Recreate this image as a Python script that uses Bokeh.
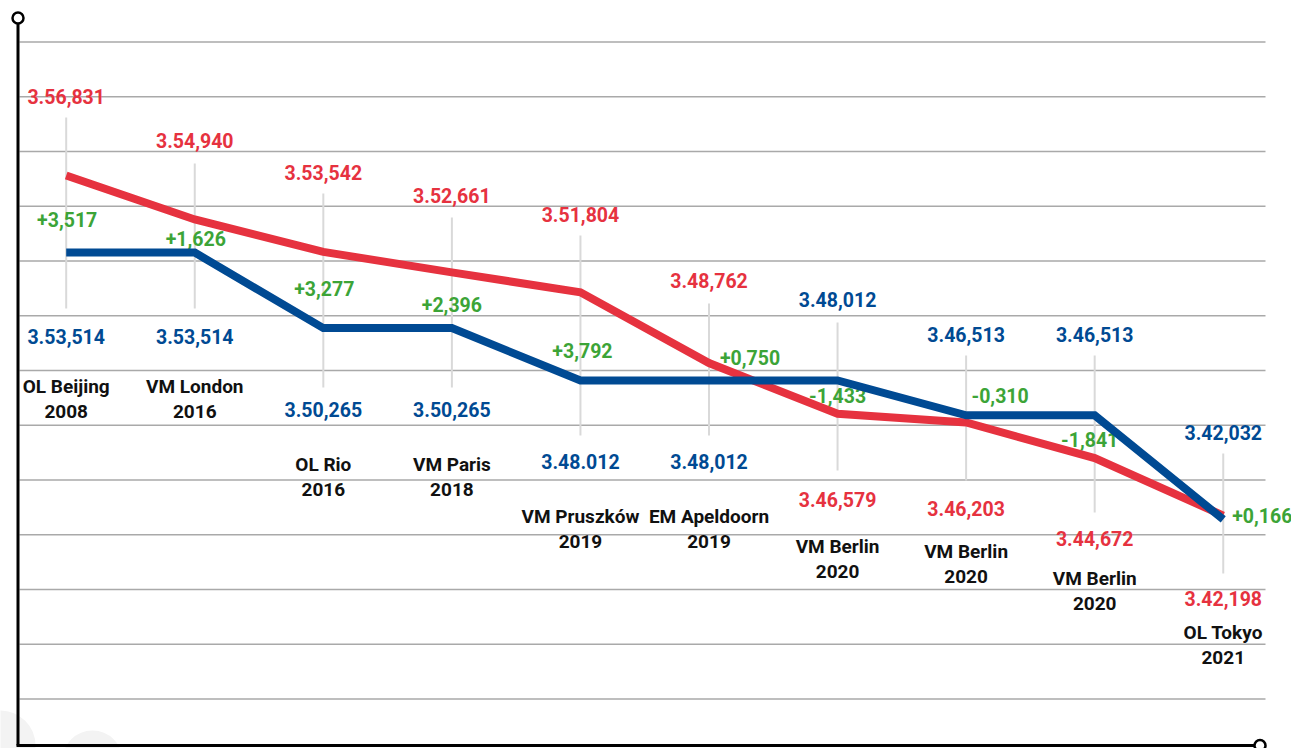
from bokeh.plotting import figure
from bokeh.models import Range1d, ColumnDataSource
from bokeh.core.properties import value
from bokeh.embed import file_html
from bokeh.resources import INLINE

# ---------------- data ----------------
events = ["OL Beijing", "VM London", "OL Rio", "VM Paris", "VM Pruszków",
          "EM Apeldoorn", "VM Berlin", "VM Berlin", "VM Berlin", "OL Tokyo"]
years = ["2008", "2016", "2016", "2018", "2019", "2019", "2020", "2020", "2020", "2021"]
red_times = ["3.56,831", "3.54,940", "3.53,542", "3.52,661", "3.51,804",
             "3.48,762", "3.46,579", "3.46,203", "3.44,672", "3.42,198"]
blue_times = ["3.53,514", "3.53,514", "3.50,265", "3.50,265", "3.48.012",
              "3.48,012", "3.48,012", "3.46,513", "3.46,513", "3.42,032"]
diffs = ["+3,517", "+1,626", "+3,277", "+2,396", "+3,792",
         "+0,750", "-1,433", "-0,310", "-1,841", "+0,166"]


def to_seconds(s):
    minutes, rest = s.split(".", 1)
    return int(minutes) * 60 + float(rest.replace(",", "."))


red_secs = [to_seconds(s) for s in red_times]
blue_secs = [to_seconds(s) for s in blue_times]
idx = list(range(len(events)))

# ---------------- layout (page pixels) ----------------
red_lab_y = [96, 140, 172, 195, 214, 280, 499, 508, 538, 598]
blue_lab_y = [336, 336, 409, 409, 461, 461, 299, 334, 334, 432]
diff_lab_y = [219, 238, 288, 304, 350, 357, 395, 395, 439, 515]
diff_dx = [1, 1, 1, 0, 2, 41, 0, 34, -5, 39]
name_y = [386, 386, 464, 464, 516, 516, 546, 551, 578, 632]
year_y = [v + 25 for v in name_y]
tick_top = [117, 163, 193, 217, 235, 303, 322, 355, 355, 453]
tick_bot = [308, 308, 387, 387, 435, 435, 470, 480, 512, 573]

RED = "#e6323f"
BLUE = "#004a93"
GREEN = "#3ca437"
BLACK = "#111111"

W, H = 1291, 748
X0, XSTEP = 65.7, 128.56       # page x of first event, spacing
Y_REF, T_REF, PX_PER_S = 175.0, red_secs[0], 23.24

x_start = (0 - X0) / XSTEP
x_end = (W - X0) / XSTEP
y_top = T_REF + (Y_REF - 0) / PX_PER_S
y_bot = T_REF - (H - Y_REF) / PX_PER_S

p = figure(width=W, height=H, x_range=Range1d(x_start, x_end),
           y_range=Range1d(y_bot, y_top), output_backend="svg",
           toolbar_location=None, min_border=0, tools="")
p.extra_x_ranges = {"px": Range1d(0, W)}
p.extra_y_ranges = {"py": Range1d(H, 0)}
p.axis.visible = False
p.grid.visible = False
p.outline_line_color = None
p.background_fill_color = "white"
p.border_fill_color = "white"

# faint background shapes at lower left
p.scatter(x=[0, 92], y=[745, 760], x_range_name="px", y_range_name="py",
          size=[70, 60], fill_color="#f3f3f3", line_color=None)

# grid lines (decorative)
grid_y = [41.5 + 54.75 * k for k in range(13)]
p.segment(x0=[19] * len(grid_y), x1=[1265] * len(grid_y), y0=grid_y, y1=grid_y,
          x_range_name="px", y_range_name="py", line_color="#a9a9a9", line_width=1.3)

# vertical leader lines
p.segment(x0=idx, x1=idx, y0=tick_top, y1=tick_bot, y_range_name="py",
          line_color="#d9d9d9", line_width=2)

src = ColumnDataSource(dict(
    x=idx, ev=events, yr=years, red=red_times, blue=blue_times, diff=diffs,
    ry=red_lab_y, by=blue_lab_y, dy=diff_lab_y, ddx=diff_dx, ny=name_y, yy=year_y,
))

common = dict(source=src, y_range_name="py", text_font=value("Roboto"),
              text_font_style="bold", text_align="center", text_baseline="middle")
p.text(x="x", y="ny", text="ev", text_color=BLACK, text_font_size="19px", **common)
p.text(x="x", y="yy", text="yr", text_color=BLACK, text_font_size="19px", **common)
p.text(x="x", y="ry", text="red", text_color=RED, text_font_size="19.5px", **common)
p.text(x="x", y="by", text="blue", text_color=BLUE, text_font_size="19.5px", **common)
p.text(x="x", y="dy", text="diff", x_offset="ddx", text_color=GREEN,
       text_font_size="19.5px", **common)

# data lines
p.line(x=idx, y=red_secs, line_color=RED, line_width=8, line_join="miter")
p.line(x=idx, y=blue_secs, line_color=BLUE, line_width=8, line_join="miter")

# axes (decorative)
p.segment(x0=[17.5, 16], x1=[17.5, 1254], y0=[22, 745], y1=[745, 745],
          x_range_name="px", y_range_name="py", line_color="black", line_width=3)
p.scatter(x=[17.5, 1259.5], y=[17.5, 745], x_range_name="px", y_range_name="py",
          size=11, fill_color="white", line_color="black", line_width=2.5)

open("out.html", "w").write(file_html(p, INLINE))
